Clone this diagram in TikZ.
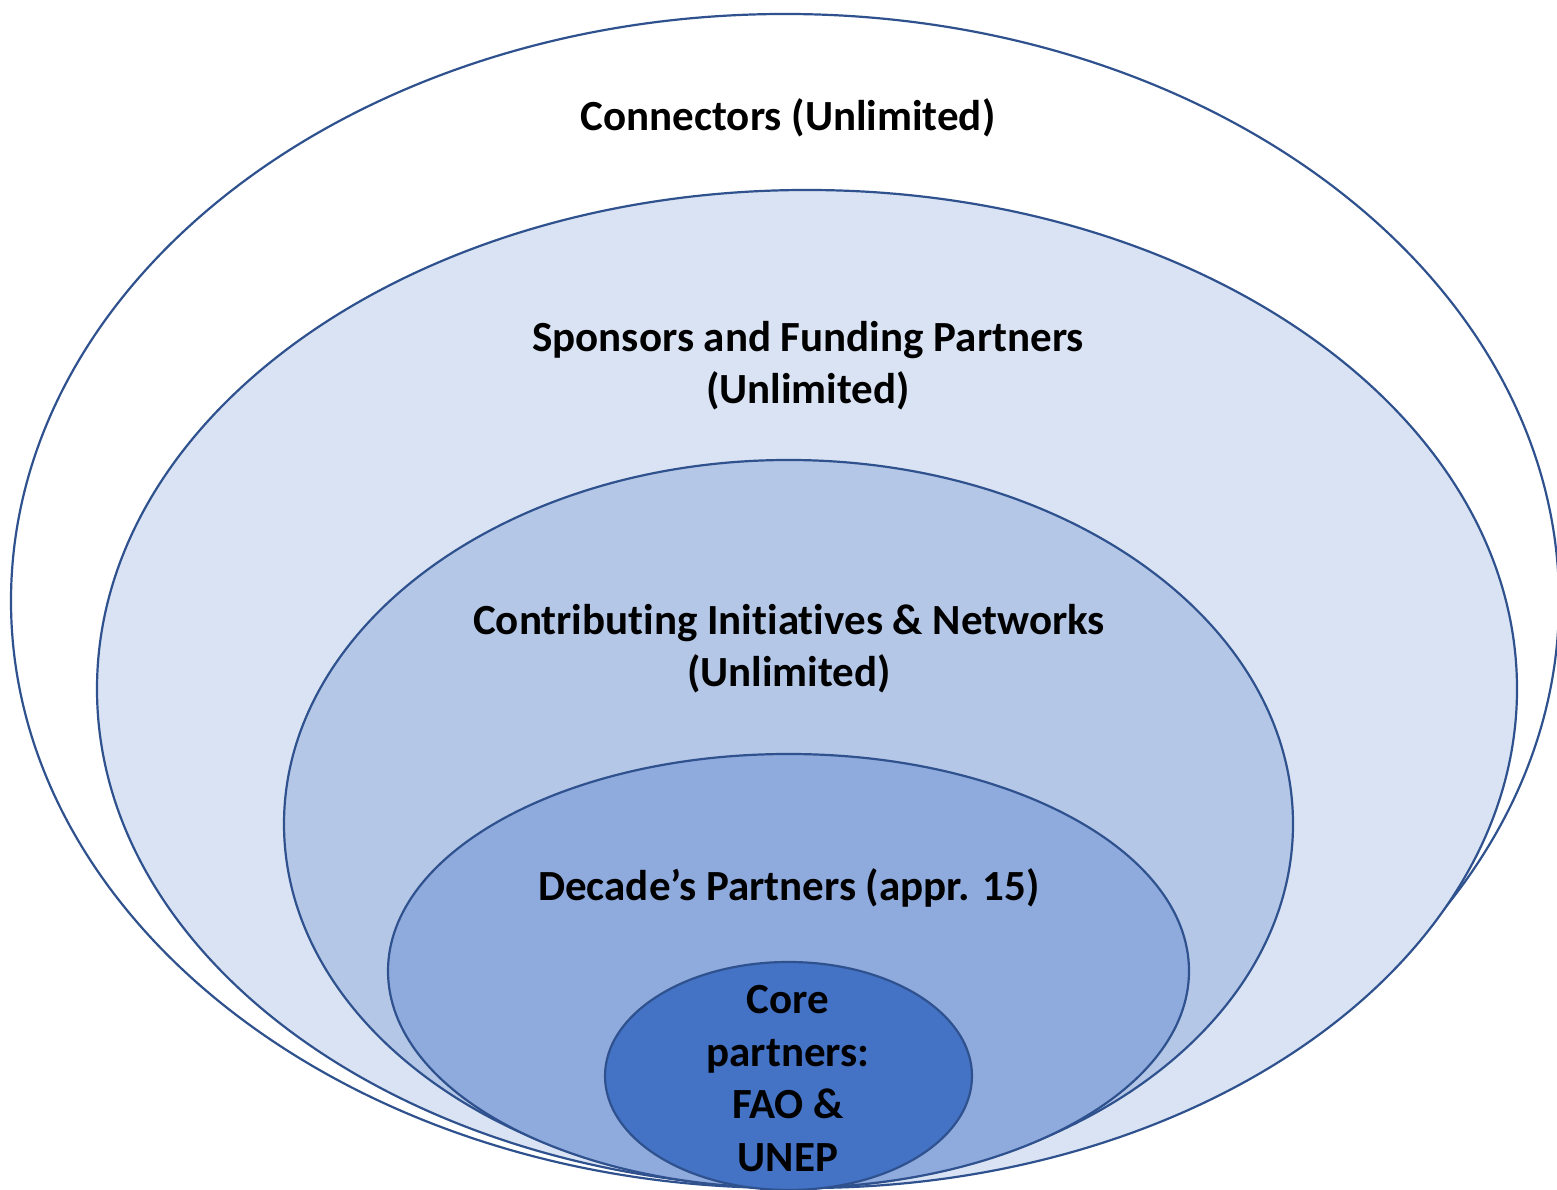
\documentclass[tikz,border=0pt]{standalone}
\usepackage{fontspec}
\setmainfont{Carlito}[Ligatures=NoCommon]
\definecolor{edge}{HTML}{2F528F}
\definecolor{fillA}{HTML}{DAE3F3}
\definecolor{fillB}{HTML}{B4C7E7}
\definecolor{fillC}{HTML}{8FAADC}
\definecolor{fillD}{HTML}{4472C4}
\begin{document}
\begin{tikzpicture}[x=1pt,y=1pt,
  ring/.style={draw=edge,line width=2.2pt},
  lbl/.style={font=\fontsize{43}{52.5}\selectfont\bfseries,align=center,inner sep=0pt,text=black}]
\useasboundingbox (0,0) rectangle (1557,1190);
\fill[white] (0,0) rectangle (1557,1190);
\draw[ring,fill=white] (785,589) ellipse [x radius=774, y radius=587];
\draw[ring,fill=fillA] (807,501) ellipse [x radius=710, y radius=499];
\draw[ring,fill=fillB] (788.5,366) ellipse [x radius=504.5, y radius=364];
\draw[ring,fill=fillC] (788.5,219) ellipse [x radius=400.5, y radius=217];
\draw[ring,fill=fillD] (788.5,114) ellipse [x radius=183.5, y radius=114];
\node[lbl] (conn) at (788,1072) {Connectors (Unlimited)};
\node[lbl] (spons) at (808,824.5) {Sponsors and Funding Partners\\(Unlimited)};
\node[lbl] (contr) at (789,541.5) {Contributing Initiatives \& Networks\\(Unlimited)};
\node[lbl] (dec) at (789,302) {Decade’s Partners (appr. 15)};
\node[lbl] (core) at (788,111.5) {Core\\partners:\\FAO \&\\UNEP};
\end{tikzpicture}
\end{document}
